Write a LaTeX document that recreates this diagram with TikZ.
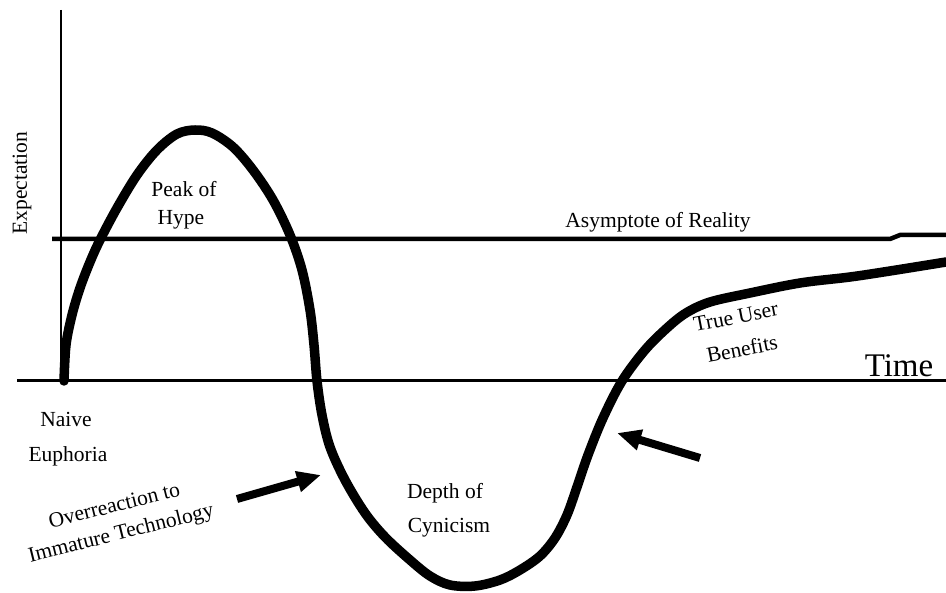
\documentclass[tikz,border=0pt]{standalone}
\usepackage{fontspec}
\setmainfont{Liberation Serif}
\usetikzlibrary{arrows.meta}
\begin{document}
\begin{tikzpicture}[x=1pt,y=-1pt,
  lbl/.style={font=\fontsize{21.5}{26}\selectfont, inner sep=0pt, anchor=base},
  axisline/.style={line width=2.6pt},
  hypecurve/.style={line width=9.5pt, line cap=round, line join=round},
  fatarrow/.style={line width=8pt, -{Triangle[length=24pt,width=20pt]}}]
\useasboundingbox (0,0) rectangle (946,593);
% axes
\coordinate (ytop) at (61,10);
\coordinate (ybot) at (61,383);
\coordinate (xl) at (17,381);
\coordinate (xr) at (946,381);
\draw[axisline] (ytop) -- (ybot);
\draw[line width=3pt] (xl) -- (xr);
% asymptote
\coordinate (al) at (52,239);
\coordinate (ar) at (946,235);
\draw[line width=4.5pt] (al) -- (890,239) -- (900,235) -- (ar);
% hype curve
\draw[hypecurve] plot[smooth, tension=0.55] coordinates {
 (64,381) (66,345) (72,315) (80,288) (90,262) (100,240) (117,208) (137,175)
 (157,150) (177,134) (195,130) (212,133) (233,147) (253,170) (273,200)
 (290,235) (302,270) (310,310) (314,345) (317,381) (322,415) (330,447)
 (345,480) (365,513) (385,537) (410,560) (430,576) (450,585) (475,586)
 (500,580) (520,570) (540,556) (555,538) (567,515) (577,487) (588,455)
 (603,418) (622,381) (645,350) (667,328) (686,313) (710,302) (750,293)
 (800,283) (850,277) (890,271) (946,262)};
% labels
\node[lbl] (exp) at (27,183) [rotate=90] {Expectation};
\node[lbl] (peak1) at (184,197) {Peak of};
\node[lbl] (peak2) at (181,225) {Hype};
\node[lbl] (asym) at (658,228) {Asymptote of Reality};
\node[lbl, font=\fontsize{33}{38}\selectfont] (time) at (899,377) {Time};
\node[lbl] (naive1) at (66,427) {Naive};
\node[lbl] (naive2) at (68,462) {Euphoria};
\node[lbl] (depth1) at (445,499) {Depth of};
\node[lbl] (depth2) at (449,533) {Cynicism};
\node[lbl, anchor=center, align=center, rotate=11,
  font=\fontsize{21.5}{33}\selectfont] (true) at (739,333) {True User\\Benefits};
\node[lbl, anchor=center, align=center, rotate=14,
  font=\fontsize{21.5}{28}\selectfont] (over) at (118,521) {Overreaction to\\Immature Technology};
% arrows
\coordinate (a1s) at (237,499);
\coordinate (a1e) at (321,475);
\coordinate (a2s) at (700,458);
\coordinate (a2e) at (617,433);
\draw[fatarrow] (a1s) -- (a1e);
\draw[fatarrow] (a2s) -- (a2e);
\end{tikzpicture}
\end{document}
